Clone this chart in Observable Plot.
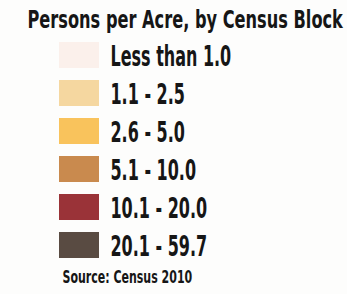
<!DOCTYPE html>
<html><head><meta charset="utf-8">
<script src="https://cdn.jsdelivr.net/npm/d3@7"></script>
<script src="https://cdn.jsdelivr.net/npm/@observablehq/plot@0.6"></script>
<style>html,body{margin:0;padding:0;background:#fdfdfc;}</style>
</head><body>
<script>
const title = "Persons per Acre, by Census Block";
const labels = ["Less than 1.0", "1.1 - 2.5", "2.6 - 5.0", "5.1 - 10.0", "10.1 - 20.0", "20.1 - 59.7"];
const colors = ["#fbf0eb", "#f5d7a0", "#f9c35c", "#c98a4e", "#9a3338", "#594b42"];
const source = "Source: Census 2010";

const rows = labels.map((label, i) => ({label, color: colors[i]}));
const font = "'DejaVu Sans Condensed', 'DejaVu Sans', sans-serif";
const ink = "#161616";

const chart = Plot.plot({
  width: 347, height: 294, margin: 0,
  style: {background: "#fdfdfc", fontFamily: font, color: ink},
  x: {type: "band", domain: ["swatch"], range: [59, 99], padding: 0, axis: null},
  y: {type: "band", domain: labels, range: [41, 260], paddingInner: 0.31, paddingOuter: 0, axis: null},
  marks: [
    Plot.cell(rows, {x: () => "swatch", y: "label", fill: "color", inset: 0}),
    Plot.text(rows, {y: "label", text: "label", frameAnchor: "left", dx: 110, dy: 2, textAnchor: "start",
      fontSize: 28, fontWeight: "bold", fill: ink, className: "lab"}),
    Plot.text([title], {text: d => d, frameAnchor: "top-left", lineAnchor: "top", dx: 27, dy: 10, textAnchor: "start",
      fontSize: 24, fontWeight: "bold", fill: ink, className: "ttl"}),
    Plot.text([source], {text: d => d, frameAnchor: "top-left", lineAnchor: "top", dx: 62, dy: 270, textAnchor: "start",
      fontSize: 18, fontWeight: "bold", fill: ink, className: "src"})
  ]
});
document.body.append(chart);
// horizontal condensing to imitate the narrow typeface
const squeeze = {lab: 0.635, ttl: 0.75, src: 0.68};
for (const [cls, f] of Object.entries(squeeze)) {
  chart.querySelectorAll(`g.${cls} text`).forEach(t => {
    const bx = t.getBBox().x;
    const prev = t.getAttribute("transform") || "";
    t.setAttribute("transform", `${prev} translate(${bx},0) scale(${f},1) translate(${-bx},0)`);
  });
}
</script>
</body></html>
